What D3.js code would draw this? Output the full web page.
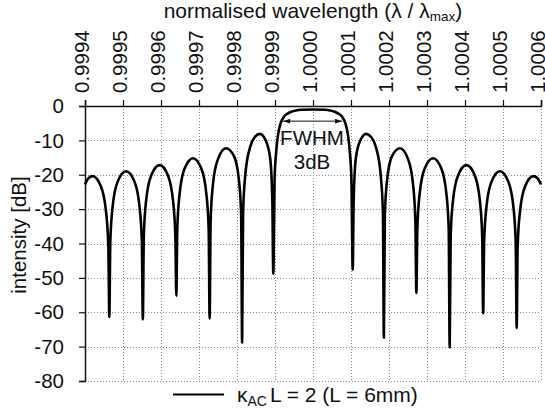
<!DOCTYPE html>
<html>
<head>
<meta charset="utf-8">
<script src="https://cdn.jsdelivr.net/npm/d3@7"></script>
<style>
  body { margin: 0; background: #fff; }
  text { font-family: "Liberation Sans", Arial, Helvetica, sans-serif; fill: #111; }
</style>
</head>
<body>
<svg id="chart" width="545" height="415"></svg>
<script>
// normalised wavelength (lambda / lambda_max)
const wavelength = [
  0.9994000, 0.9994094, 0.9994200, 0.9994420, 0.9994552, 0.9994614, 0.9994640,
  0.9994666, 0.9994728, 0.9994860, 0.9995081, 0.9995302, 0.9995434, 0.9995496, 0.9995522,
  0.9995548, 0.9995610, 0.9995742, 0.9995963, 0.9996183, 0.9996315, 0.9996377, 0.9996403,
  0.9996429, 0.9996491, 0.9996622, 0.9996842, 0.9997061, 0.9997192, 0.9997254, 0.9997280,
  0.9997306, 0.9997365, 0.9997494, 0.9997710, 0.9997921, 0.9998050, 0.9998109, 0.9998135,
  0.9998160, 0.9998217, 0.9998340, 0.9998470, 0.9998600, 0.9998750, 0.9998873, 0.9998930, 0.9998955,
  0.9998990, 0.9999030, 0.9999080, 0.9999150, 0.9999230, 0.9999330, 0.9999430, 0.9999550, 0.9999700,
  1.0000000,
  1.0000300, 1.0000450, 1.0000570, 1.0000670, 1.0000770, 1.0000850, 1.0000920, 1.0000970, 1.0001010,
  1.0001045, 1.0001070, 1.0001127, 1.0001250, 1.0001400, 1.0001530, 1.0001660, 1.0001783, 1.0001840,
  1.0001865, 1.0001891, 1.0001950, 1.0002079, 1.0002290, 1.0002506, 1.0002635, 1.0002694,
  1.0002720, 1.0002746, 1.0002808, 1.0002939, 1.0003158, 1.0003378, 1.0003509, 1.0003571,
  1.0003597, 1.0003623, 1.0003685, 1.0003817, 1.0004037, 1.0004258, 1.0004390, 1.0004452,
  1.0004478, 1.0004504, 1.0004566, 1.0004698, 1.0004919, 1.0005140, 1.0005272, 1.0005334,
  1.0005360, 1.0005386, 1.0005448, 1.0005580, 1.0005800, 1.0005906, 1.0006000
];

// intensity [dB], same order
const intensity = [
  -22.8, -21.0, -20.4, -23.4, -30.6, -40.9, -61.4,
  -39.5, -29.2, -22.0, -19.0, -22.0, -29.2, -39.5, -62.1,
  -37.7, -27.4, -20.2, -17.2, -20.2, -27.4, -37.7, -55.2,
  -35.7, -25.4, -18.2, -15.2, -18.2, -25.4, -35.7, -61.8,
  -33.5, -23.0, -15.6, -12.3, -14.6, -21.5, -31.5, -68.8,
  -31.2, -20.2, -12.1, -9.0, -8.1, -9.9, -15.2, -27.5, -48.8,
  -21.0, -13.5, -8.4, -5.0, -3.2, -2.2, -1.65, -1.3, -1.1,
  -1.0,
  -1.1, -1.3, -1.65, -2.2, -3.2, -5.0, -8.4, -13.5, -21.0,
  -47.6, -27.5, -15.2, -9.9, -8.1, -9.0, -12.1, -20.2, -31.2,
  -67.4, -31.5, -21.5, -14.6, -12.3, -15.6, -23.0, -33.5,
  -54.4, -35.7, -25.4, -18.2, -15.2, -18.2, -25.4, -35.7,
  -70.2, -37.7, -27.4, -20.2, -17.2, -20.2, -27.4, -37.7,
  -60.3, -39.5, -29.2, -22.0, -19.0, -22.0, -29.2, -39.5,
  -64.6, -40.9, -30.6, -23.4, -20.4, -21.0, -22.8
];

const xTicks = [0.9994, 0.9995, 0.9996, 0.9997, 0.9998, 0.9999, 1.0000,
                1.0001, 1.0002, 1.0003, 1.0004, 1.0005, 1.0006];
const yTicks = [0, -10, -20, -30, -40, -50, -60, -70, -80];

// FWHM marker (edges in wavelength, level in dB)
const fwhmEdges = [0.9999215, 1.0000765];
const fwhmLevel = -4.4;

const svg = d3.select("#chart");
const FS = 20.5;

const x = d3.scaleLinear().domain([0.9994, 1.0006]).range([85, 541]);
const y = d3.scaleLinear().domain([0, -80]).range([106, 381]);

svg.append("rect").attr("width", 545).attr("height", 415).attr("fill", "#fff");

// grid
const grid = svg.append("g").attr("stroke", "#8a8a8a").attr("stroke-width", 1)
  .attr("stroke-dasharray", "1,2");
grid.selectAll("line.v").data(xTicks.slice(1)).join("line")
  .attr("x1", d => Math.round(x(d)) + 0.5).attr("x2", d => Math.round(x(d)) + 0.5)
  .attr("y1", y(0)).attr("y2", y(-80));
grid.selectAll("line.h").data(yTicks.slice(1)).join("line")
  .attr("x1", x(0.9994)).attr("x2", x(1.0006))
  .attr("y1", d => Math.round(y(d)) + 0.5).attr("y2", d => Math.round(y(d)) + 0.5);

// axes
const xAxis = svg.append("g").attr("transform", `translate(0,${y(0)})`)
  .call(d3.axisTop(x).tickValues(xTicks).tickSize(6).tickFormat(""));
const yAxis = svg.append("g").attr("transform", `translate(${x(0.9994)},0)`)
  .call(d3.axisLeft(y).tickValues(yTicks).tickSize(6).tickFormat(""));
[xAxis, yAxis].forEach(g => {
  g.select(".domain").attr("stroke", "#111").attr("stroke-width", 1.5);
  g.selectAll(".tick line").attr("stroke", "#111").attr("stroke-width", 1.2);
});

// tick labels
svg.append("g").selectAll("text").data(yTicks).join("text")
  .attr("x", 64).attr("y", d => y(d))
  .attr("text-anchor", "end").attr("dy", "0.35em")
  .attr("font-size", FS).text(d => d);

svg.append("g").selectAll("text").data(xTicks).join("text")
  .attr("transform", d => `translate(${x(d) - 3},93) rotate(-90)`)
  .attr("text-anchor", "start").attr("dy", "0.35em")
  .attr("font-size", FS).text(d => d.toFixed(4));

// axis titles
const title = svg.append("text")
  .attr("x", 313).attr("y", 18)
  .attr("text-anchor", "middle").attr("font-size", 21);
title.append("tspan").text("normalised wavelength  (\u03bb / \u03bb");
title.append("tspan").attr("font-size", 13.5).attr("dy", 3).text("max");
title.append("tspan").attr("dy", -3).text(")");

svg.append("text")
  .attr("transform", `translate(19,235) rotate(-90)`)
  .attr("text-anchor", "middle").attr("dy", "0.35em").attr("font-size", FS)
  .text("intensity [dB]");

// spectrum
const line = d3.line()
  .x((d, i) => x(wavelength[i]))
  .y(d => y(d))
  .curve(d3.curveMonotoneX);
svg.append("path").datum(intensity)
  .attr("d", line).attr("fill", "none").attr("stroke", "#000")
  .attr("stroke-width", 2.6).attr("stroke-linejoin", "round");

// FWHM annotation
const defs = svg.append("defs");
defs.append("marker").attr("id", "ah").attr("viewBox", "0 0 10 10")
  .attr("refX", 10).attr("refY", 5).attr("markerWidth", 9).attr("markerHeight", 7)
  .attr("orient", "auto-start-reverse").attr("markerUnits", "userSpaceOnUse")
  .append("path").attr("d", "M0,1.5 L10,5 L0,8.5 Z").attr("fill", "#111");
svg.append("line")
  .attr("x1", x(fwhmEdges[0])).attr("x2", x(fwhmEdges[1]))
  .attr("y1", y(fwhmLevel)).attr("y2", y(fwhmLevel))
  .attr("stroke", "#111").attr("stroke-width", 1)
  .attr("marker-start", "url(#ah)").attr("marker-end", "url(#ah)");
svg.append("text").attr("x", 312).attr("y", 145)
  .attr("text-anchor", "middle").attr("font-size", FS).text("FWHM");
svg.append("text").attr("x", 312).attr("y", 169)
  .attr("text-anchor", "middle").attr("font-size", FS).text("3dB");

// legend
svg.append("line").attr("x1", 173).attr("x2", 224).attr("y1", 394.5).attr("y2", 394.5)
  .attr("stroke", "#000").attr("stroke-width", 2);
const leg = svg.append("text").attr("x", 237).attr("y", 402)
  .attr("font-size", 21);
leg.append("tspan").text("\u03ba");
leg.append("tspan").attr("font-size", 14).attr("dy", 4).text("AC");
leg.append("tspan").attr("dx", 3).attr("dy", -4).text("L = 2 (L = 6mm)");
</script>
</body>
</html>
